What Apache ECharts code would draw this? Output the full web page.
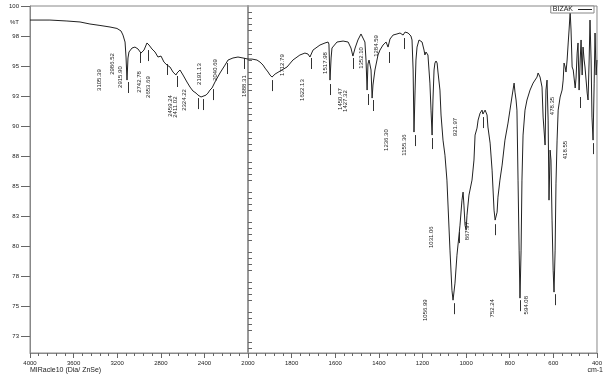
<!DOCTYPE html>
<html>
<head>
<meta charset="utf-8">
<script src="https://cdn.jsdelivr.net/npm/echarts@6/dist/echarts.min.js"></script>
<style>
  html, body { margin: 0; padding: 0; background: #fff; }
  #chart { width: 605px; height: 378px; }
</style>
</head>
<body>
<div id="chart"></div>
<script>
// spectrum: wavenumber (cm-1) and %T
const wavenumbers = [
  4000, 3817, 3661, 3541, 3450, 3358, 3266, 3202, 3165, 3147, 3128, 3119, 3110, 3101, 3092, 3064,
  3037, 3009, 2982, 2972, 2954, 2927, 2908, 2881, 2853, 2826, 2798, 2771, 2743, 2716, 2688, 2661,
  2651, 2624, 2596, 2560, 2532, 2505, 2477, 2459, 2431, 2413, 2385, 2367, 2349, 2330, 2303, 2257,
  2211, 2183, 2138, 2092, 2046, 2000,
  1982, 1959, 1945, 1931, 1922, 1908, 1899, 1890, 1876, 1867, 1853, 1821, 1794, 1762, 1739, 1725,
  1716, 1702, 1670, 1647, 1633, 1629, 1624, 1619, 1615, 1592, 1564, 1541, 1528, 1519, 1509, 1496,
  1482, 1473, 1464, 1459, 1454, 1450, 1445, 1441, 1436, 1431, 1427, 1418, 1404, 1395, 1381, 1367,
  1358, 1349, 1335, 1317, 1303, 1294, 1289, 1280, 1266, 1253, 1248, 1243, 1239, 1234, 1230, 1225,
  1216, 1211, 1202, 1193, 1189, 1184, 1179, 1175, 1166, 1161, 1156, 1152, 1147, 1143, 1138, 1133,
  1129, 1120, 1115, 1106, 1097, 1088, 1074, 1065, 1060, 1051, 1042, 1028, 1019, 1014, 1010, 1005,
  1000, 996, 987, 973, 964, 959, 950, 945, 936, 927, 923, 913, 904, 900, 890, 881,
  872, 867, 863, 858, 854, 845, 835, 822, 808, 799, 790, 780, 776, 771, 767, 762,
  757, 753, 748, 744, 739, 730, 721, 707, 693, 675, 670, 661, 652, 647, 638, 634,
  629, 624, 620, 615, 611, 606, 601, 597, 592, 588, 583, 578, 569, 560, 555, 551,
  546, 542, 537, 532, 528, 523, 519, 514, 509, 500, 496, 491, 487, 482, 477, 473,
  468, 464, 459, 455, 445, 441, 436, 432, 427, 423, 418, 413, 409, 404, 400
];
const transmittance = [
  98.83, 98.83, 98.75, 98.67, 98.5, 98.38, 98.25, 98.13, 97.92, 97.58, 97.0, 95.75, 93.83, 95.67, 96.17, 96.5,
  96.58, 96.42, 96.08, 96.0, 96.33, 96.92, 96.75, 96.42, 96.17, 95.75, 95.83, 95.33, 95.08, 94.92, 94.5, 94.25,
  94.42, 94.67, 94.25, 93.67, 93.25, 92.92, 92.75, 92.58, 92.42, 92.33, 92.58, 92.75, 93.0, 93.17, 93.67, 94.42,
  95.08, 95.5, 95.67, 95.75, 95.67, 95.58,
  95.58, 95.5, 95.33, 95.08, 94.83, 94.5, 94.25, 94.08, 94.33, 94.42, 94.58, 94.92, 95.5, 95.92, 96.08, 96.0,
  95.75, 96.33, 96.75, 96.92, 97.0, 96.83, 93.83, 95.67, 96.5, 97.0, 97.08, 97.0, 96.5, 95.83, 96.5, 97.17,
  97.67, 97.75, 97.0, 95.5, 93.0, 95.17, 95.5, 95.5, 94.67, 92.33, 93.42, 94.67, 95.92, 96.33, 96.75, 97.0,
  96.58, 97.25, 97.58, 97.67, 97.75, 97.83, 97.58, 97.83, 97.75, 97.5, 97.17, 94.67, 89.5, 93.0, 95.5, 96.58,
  97.17, 97.25, 97.0, 96.33, 95.92, 96.17, 96.33, 95.92, 93.58, 91.33, 89.25, 92.17, 94.67, 95.25, 95.42, 95.25,
  94.5, 93.0, 90.92, 88.83, 87.58, 85.5, 79.67, 76.33, 75.5, 76.92, 79.25, 81.75, 83.83, 84.5, 83.42, 81.75,
  81.33, 82.58, 84.25, 85.5, 87.17, 89.25, 89.83, 90.5, 91.08, 91.33, 91.0, 91.33, 90.92, 89.92, 88.58, 86.33,
  83.0, 82.17, 82.33, 82.83, 84.08, 85.5, 86.75, 88.83, 90.25, 91.33, 92.42, 93.58, 92.83, 92.17, 91.33, 85.5,
  79.67, 75.67, 79.67, 85.5, 89.25, 91.33, 92.17, 93.0, 93.58, 94.08, 94.42, 94.08, 93.25, 90.75, 88.42, 93.0,
  93.83, 90.5, 83.83, 88.0, 87.17, 82.17, 78.0, 76.17, 79.67, 85.25, 88.83, 91.33, 92.42, 93.0, 93.83, 95.25,
  94.92, 94.5, 95.5, 96.92, 98.0, 99.5, 98.0, 94.92, 94.67, 93.17, 94.0, 96.08, 96.92, 93.0, 95.5, 97.17,
  94.25, 96.58, 95.5, 94.92, 92.75, 92.17, 95.5, 98.83, 95.5, 90.75, 88.83, 93.58, 97.75, 94.25, 95.5
];

// peak picks: wavenumber, %T at top of the marker, %T at middle of the label
const peakWavenumbers = [
  3105.39, 2986.52, 2915.90, 2742.78, 2653.69, 2459.24, 2411.02, 2324.22, 2191.13, 2040.69,
  1888.31, 1712.79, 1622.13, 1517.98, 1450.47, 1427.32, 1352.10, 1284.59, 1236.30, 1155.36,
  1056.99, 1031.06, 921.97, 867.97, 752.24, 594.08, 478.35, 418.55
];
const peakTickT = [
  93.67, 96.17, 96.33, 95.17, 94.17, 92.33, 92.25, 93.08, 95.25, 95.67,
  93.83, 95.67, 93.5, 95.67, 92.67, 92.17, 96.17, 97.33, 89.25, 89.0,
  75.25, 81.17, 90.75, 81.83, 75.5, 76.0, 92.42, 88.58
];
const peakLabelT = [
  93.83, 95.17, 94.08, 93.67, 93.25, 91.67, 91.58, 92.17, 94.33, 94.67,
  93.33, 95.08, 93.0, 95.25, 92.25, 92.08, 95.67, 96.67, 88.83, 88.42,
  74.67, 80.75, 89.92, 81.25, 74.83, 75.08, 91.67, 88.0
];

// y axis: labelled every 2.5 %T, small ticks every 0.5
const yMajorTicks = [72.5, 75, 77.5, 80, 82.5, 85, 87.5, 90, 92.5, 95, 97.5, 100];
const yMinorTicks = [];
for (let v = 71.5; v < 100; v += 0.5) {
  if (v % 2.5 !== 0) yMinorTicks.push(v);
}
const unitLabelAt = 98.6;

const yMin = 71.1;
const yMax = 100;
const font = '"Liberation Sans Narrow", "Liberation Sans", Arial, sans-serif';

const points = wavenumbers.map((w, i) => [w, transmittance[i]]);
const leftPoints = points.filter(p => p[0] >= 2000);
const rightPoints = points.filter(p => p[0] <= 2000);

const peaks = peakWavenumbers.map((w, i) => [w, peakTickT[i], peakLabelT[i], w.toFixed(2)]);
const leftPeaks = peaks.filter(p => p[0] > 2000);
const rightPeaks = peaks.filter(p => p[0] < 2000);

function peakRenderer(list) {
  return function (params, api) {
    const p = list[params.dataIndex];
    const top = api.coord([p[0], p[1]]);
    const lab = api.coord([p[0], p[2]]);
    const x = Math.round(top[0]) + 0.5;
    return {
      type: 'group',
      children: [
        {
          type: 'line',
          shape: { x1: x, y1: top[1], x2: x, y2: top[1] + 11 },
          style: { stroke: '#333', lineWidth: 1 }
        },
        {
          type: 'text',
          x: lab[0] - 28,
          y: lab[1],
          rotation: Math.PI / 2,
          style: {
            text: p[3],
            align: 'center',
            verticalAlign: 'middle',
            fill: '#222',
            font: '6px ' + font
          }
        }
      ]
    };
  };
}

// hide is the value whose label belongs to the other half of the axis
function xAxisFor(gridIndex, min, max, interval, hide) {
  return {
    gridIndex: gridIndex,
    type: 'value',
    min: min,
    max: max,
    interval: interval,
    inverse: true,
    axisLine: { lineStyle: { color: '#888', width: 1 } },
    axisTick: { length: 5, lineStyle: { color: '#666' } },
    minorTick: { show: true, splitNumber: 5, length: 3, lineStyle: { color: '#666' } },
    axisLabel: {
      fontSize: 6,
      color: '#222',
      margin: 7,
      fontFamily: font,
      formatter: v => (v === hide ? '' : String(v))
    },
    splitLine: { show: false }
  };
}

const chart = echarts.init(document.getElementById('chart'), null, { renderer: 'canvas' });

chart.setOption({
  animation: false,
  backgroundColor: '#fff',
  grid: [
    { left: 30, top: 6, width: 218, height: 347, show: true, borderColor: '#888', borderWidth: 1 },
    { left: 248, top: 6, width: 349, height: 347, show: true, borderColor: '#888', borderWidth: 1 }
  ],
  legend: {
    data: ['BIZAK'],
    top: 6,
    right: 11,
    align: 'right',
    icon: 'rect',
    itemWidth: 14,
    itemHeight: 1,
    padding: [0, 2],
    borderColor: '#888',
    borderWidth: 1,
    backgroundColor: '#fff',
    textStyle: { fontSize: 7, lineHeight: 7, color: '#222', fontFamily: font }
  },
  xAxis: [
    xAxisFor(0, 2000, 4000, 400, 2000),
    xAxisFor(1, 400, 2000, 200, null)
  ],
  yAxis: [
    {
      gridIndex: 0,
      type: 'value',
      min: yMin,
      max: yMax,
      axisLine: { show: true, lineStyle: { color: '#888' } },
      axisTick: { show: true, length: 9, customValues: yMajorTicks, lineStyle: { color: '#666' } },
      axisLabel: {
        customValues: yMajorTicks.concat([unitLabelAt]),
        formatter: v => (Math.abs(v - unitLabelAt) < 0.01 ? '%T' : String(Math.round(v))),
        fontSize: 6,
        color: '#222',
        margin: 11,
        fontFamily: font
      },
      splitLine: { show: false }
    },
    {
      gridIndex: 0,
      type: 'value',
      min: yMin,
      max: yMax,
      axisLine: { show: false },
      axisTick: { show: true, length: 4, customValues: yMinorTicks, lineStyle: { color: '#666' } },
      axisLabel: { show: false },
      splitLine: { show: false }
    },
    {
      gridIndex: 1,
      type: 'value',
      min: yMin,
      max: yMax,
      axisLine: { show: true, lineStyle: { color: '#999', width: 2 } },
      axisTick: { show: false },
      axisLabel: { show: false },
      splitLine: { show: false }
    }
  ],
  series: [
    {
      name: 'BIZAK',
      type: 'line',
      xAxisIndex: 0,
      yAxisIndex: 0,
      data: leftPoints,
      showSymbol: false,
      lineStyle: { color: '#222', width: 1 },
      itemStyle: { color: '#222' }
    },
    {
      name: 'BIZAK',
      type: 'line',
      xAxisIndex: 1,
      yAxisIndex: 2,
      data: rightPoints,
      showSymbol: false,
      lineStyle: { color: '#222', width: 1 },
      itemStyle: { color: '#222' }
    },
    {
      type: 'custom',
      xAxisIndex: 0,
      yAxisIndex: 0,
      data: leftPeaks.map(p => [p[0], p[1]]),
      encode: { x: 0, y: 1 },
      renderItem: peakRenderer(leftPeaks),
      silent: true
    },
    {
      type: 'custom',
      xAxisIndex: 1,
      yAxisIndex: 2,
      data: rightPeaks.map(p => [p[0], p[1]]),
      encode: { x: 0, y: 1 },
      renderItem: peakRenderer(rightPeaks),
      silent: true
    }
  ],
  graphic: [
    {
      type: 'text',
      left: 30,
      top: 367,
      style: { text: 'MIRacle10 (Dia/ ZnSe)', font: '7px ' + font, fill: '#222' }
    },
    {
      type: 'text',
      right: 2,
      top: 367,
      style: { text: 'cm-1', font: '7px ' + font, fill: '#222' }
    }
  ]
});
</script>
</body>
</html>
